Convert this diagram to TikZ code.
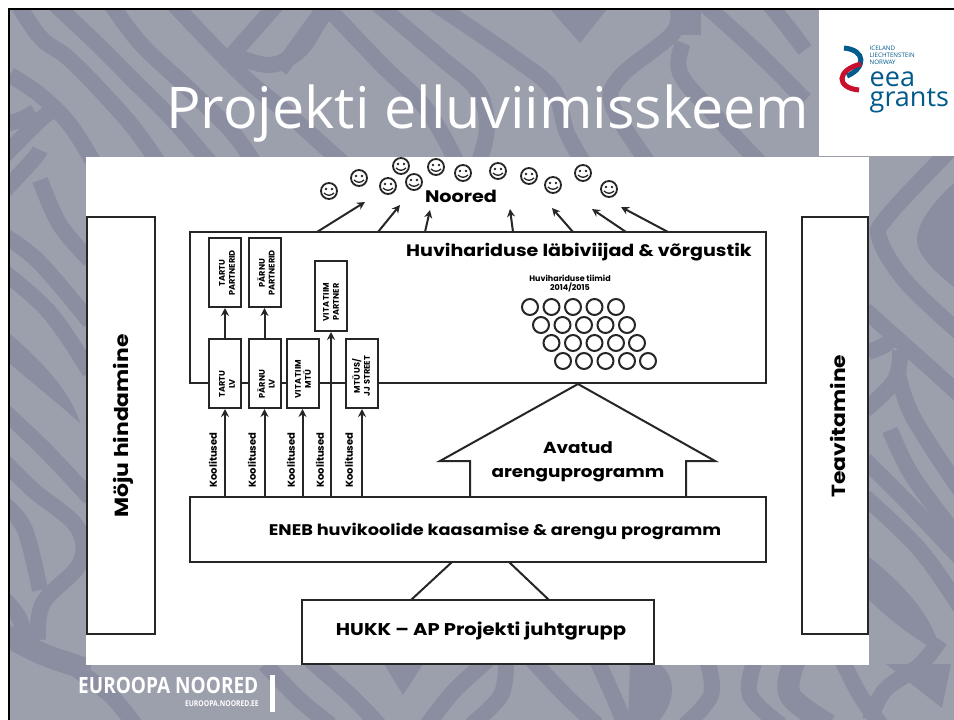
\documentclass[tikz,border=0pt]{standalone}
\usepackage{fontspec}
\setmainfont{Poppins}
\newfontfamily\widefont[FakeStretch=1.15]{Poppins}
\newfontfamily\titlefont{Open Sans}
\newfontfamily\logofont{Open Sans}
\newfontfamily\footfont[FakeStretch=0.85]{Open Sans}
\usetikzlibrary{arrows.meta}
\definecolor{bglight}{HTML}{9C9FAC}
\definecolor{bgdark}{HTML}{8A8EA0}
\definecolor{eeablue}{HTML}{005A8C}
\definecolor{eeared}{HTML}{C8102E}
\tikzset{
 x=1pt,y=-1pt,
 ln/.style={draw=black!85,line width=2pt},
 bx/.style={ln,fill=white},
 arr/.style={ln,-{Stealth[length=8pt,width=8pt]}},
 band/.style={draw=bgdark,line width=16pt},
 bandw/.style={draw=bgdark,line width=22pt},
 dk/.style={fill=bgdark},
 smallv/.style={font=\fontsize{8.2}{9.8}\selectfont\bfseries,align=center,rotate=90,inner sep=0pt},
 koolit/.style={font=\fontsize{10}{12}\selectfont\bfseries,rotate=90,inner sep=0pt},
 circ/.style={circle,ln,minimum size=16pt,inner sep=0pt},
}
\newcommand{\smiley}[3]{%
 \node[circle,draw=black!85,line width=1.8pt,fill=white,minimum size=16pt,inner sep=0pt] (#1) at (#2,#3) {};
 \fill[black!85] (#2-3,#3-2) circle (1.3pt) (#2+3,#3-2) circle (1.3pt);
 \draw[black!85,line width=1.3pt] (#2-5,#3+2) .. controls (#2-2,#3+5) and (#2+2,#3+5) .. (#2+5,#3+2);
}
\newcommand{\bnd}[2][band]{\draw[#1] plot[smooth,tension=0.6] coordinates {#2};}
\begin{document}
\begin{tikzpicture}
\useasboundingbox (0,0) rectangle (954,720);
\fill[white] (0,0) rectangle (954,720);
% slide background
\begin{scope}
\clip (9,9) rectangle (954,720);
\fill[bglight] (0,0) rectangle (954,720);
% top left
\bnd{(12,-5) (40,37) (67,57) (100,90) (133,127) (160,165)}
\bnd{(45,-5) (93,40) (133,80) (173,120) (212,165)}
\bnd{(105,-5) (140,43) (190,90) (233,133) (255,165)}
\bnd{(165,-5) (240,73) (287,113) (345,165)}
\bnd{(10,75) (40,95) (70,125) (95,165)}
\bnd{(0,125) (20,120) (35,112)}
\bnd{(5,155) (40,120) (60,105)}
\bnd{(285,-5) (232,55)}
\bnd{(232,55) (270,65) (300,50) (320,20) (335,0)}
% top middle
\bnd{(325,5) (380,63) (427,110) (458,165)}
\bnd{(375,2) (440,57) (477,90) (487,127) (478,165)}
\bnd{(432,2) (513,57) (553,90) (567,133) (585,165)}
\fill[dk] (550,9) -- (607,9) -- (580,43) -- cycle;
\bnd{(280,70) (323,10)}
\bnd{(677,5) (673,33) (620,77) (613,107) (650,165)}
\bnd{(705,5) (755,50) (805,100)}
\bnd{(683,43) (680,73) (713,113) (762,165)}
\bnd[bandw]{(690,5) (690,35)}
\bnd{(770,5) (790,30) (805,50)}
% right
\bnd{(950,150) (887,217) (880,240) (907,283) (960,333)}
\fill[dk] (954,183) .. controls (930,205) and (917,225) .. (917,240) .. controls (917,255) and (935,272) .. (954,287) -- cycle;
\bnd{(865,310) (910,350) (960,395)}
\bnd{(868,352) (885,345) (895,335)}
\bnd{(865,410) (895,380) (900,350)}
\bnd{(897,370) (913,417) (960,490)}
\bnd{(890,430) (913,477) (960,540)}
\bnd{(865,460) (910,505) (960,558)}
\bnd{(865,497) (920,550) (960,607)}
\fill[dk] (869,557) -- (869,600) .. controls (890,620) and (915,640) .. (940,652) .. controls (935,620) and (905,585) .. (869,557) -- cycle;
\bnd{(940,640) (920,665) (885,690) (870,720)}
% left
\bnd{(5,190) (33,160) (40,150)}
\bnd{(40,180) (60,225) (90,260)}
\bnd{(5,236) (40,263) (90,322)}
\bnd{(5,273) (50,313) (90,372)}
\fill[dk] (9,333) -- (9,363) .. controls (35,385) and (60,405) .. (80,423) .. controls (70,390) and (40,360) .. (9,333) -- cycle;
\bnd{(5,412) (45,450) (90,498)}
\bnd{(5,462) (33,490) (77,527) (80,563) (43,603) (38,640)}
\bnd{(5,505) (25,530) (40,590)}
\bnd{(5,600) (20,620) (25,650)}
\bnd[bandw]{(5,635) (45,655) (90,670)}
\bnd{(70,665) (110,695) (135,725)}
% bottom
\bnd{(265,664) (300,700) (331,725)}
\bnd{(310,660) (350,695) (379,725)}
\fill[dk] (384,664) -- (423,664) -- (403,695) -- cycle;
\bnd{(488,660) (455,690) (427,725)}
\bnd{(506,660) (501,695) (471,725)}
\bnd{(532,660) (565,695) (597,725)}
\bnd{(597,660) (615,700) (625,725)}
\fill[dk] (630,664) -- (660,664) .. controls (678,680) and (675,705) .. (655,725) -- (628,725) -- cycle;
\bnd{(707,660) (711,695) (685,725)}
\bnd{(755,660) (750,695) (781,725)}
\bnd[bandw]{(795,660) (790,695) (829,725)}
\bnd{(842,660) (860,695) (881,725)}
\fill[dk] (886,664) -- (951,664) -- (942,708) -- cycle;
\end{scope}
% frame
\draw[black,line width=2.2pt] (9,720) -- (9,9) -- (954,9);
% panels
\fill[white] (86,157) rectangle (869,665);
\fill[white] (819,10) rectangle (954,156);
% title
\node[anchor=base west,text=white,inner sep=0pt,font=\titlefont\fontsize{57.5}{60}\selectfont] (title) at (166,128) {Projekti elluviimisskeem};
% logo
\draw[eeablue,line width=5pt] (844,48) .. controls (866,50) and (866,68) .. (847,76);
\draw[eeared,line width=5pt] (861,64) .. controls (836,70) and (836,88) .. (859,90);
\node[anchor=west,inner sep=0pt,text=eeablue,align=left,font=\logofont\fontsize{6.2}{7}\selectfont] (lg1) at (869.5,55) {ICELAND\\LIECHTENSTEIN\\NORWAY};
\node[anchor=north west,inner sep=0pt,text=eeablue,align=left,font=\logofont\fontsize{27}{20}\selectfont] (lg2) at (869.5,72) {eea\\grants};
% footer
\node[anchor=base west,inner sep=0pt,text=white,font=\footfont\bfseries\fontsize{22.4}{24}\selectfont] (f1) at (78,693) {EUROOPA NOORED};
\node[anchor=base east,inner sep=0pt,text=white,font=\footfont\bfseries\fontsize{8}{8}\selectfont] (f2) at (259,706) {EUROOPA.NOORED.EE};
\fill[white] (270,675) rectangle (275,712);
% side boxes
\node[bx,minimum width=68pt,minimum height=417pt,inner sep=0pt] (moju) at (121,425.5) {};
\node[font=\widefont\fontsize{19}{22}\selectfont\bfseries,rotate=90,inner sep=0pt] (mojut) at (123,426) {Möju hindamine};
\node[bx,minimum width=66pt,minimum height=417pt,inner sep=0pt] (teav) at (835,425.5) {};
\node[font=\widefont\fontsize{19}{22}\selectfont\bfseries,rotate=90,inner sep=0pt] (teavt) at (838,426) {Teavitamine};
% main box
\node[bx,minimum width=576pt,minimum height=151pt,inner sep=0pt] (main) at (478,307.5) {};
\node[font=\widefont\fontsize{16.6}{20}\selectfont\bfseries,inner sep=0pt,anchor=west] (hl) at (406,252) {Huvihariduse läbiviijad \& võrgustik};
\node[font=\fontsize{8}{9}\selectfont\bfseries,align=center,inner sep=0pt] (tiim) at (570,283.5) {Huvihariduse tiimid\\2014/2015};
% circles
\foreach \xx [count=\i] in {530,551.5,573,594.5,616}{\node[circ] (ca\i) at (\xx,307) {};}
\foreach \xx [count=\i] in {541,562.5,584,605.5,627}{\node[circ] (cb\i) at (\xx,325) {};}
\foreach \xx [count=\i] in {551.5,573,594.5,616,637}{\node[circ] (cc\i) at (\xx,343) {};}
\foreach \xx [count=\i] in {563,584,605.5,627,648}{\node[circ] (cd\i) at (\xx,361) {};}
% small boxes
\node[bx,minimum width=32pt,minimum height=69pt,inner sep=0pt] (tp) at (225,272.5) {};
\node[smallv] at (227,273) {TARTU\\PARTNERID};
\node[bx,minimum width=32pt,minimum height=69pt,inner sep=0pt] (pp) at (264.5,272.5) {};
\node[smallv] at (266,273) {PÄRNU\\PARTNERID};
\node[bx,minimum width=32pt,minimum height=70pt,inner sep=0pt] (vp) at (331,296) {};
\node[smallv] at (331,302) {VITA TIIM\\PARTNER};
\node[bx,minimum width=32pt,minimum height=69pt,inner sep=0pt] (tl) at (225,373.5) {};
\node[smallv] at (227,384) {TARTU\\LV};
\node[bx,minimum width=32pt,minimum height=69pt,inner sep=0pt] (pl) at (264.5,373.5) {};
\node[smallv] at (266,384) {PÄRNU\\LV};
\node[bx,minimum width=32pt,minimum height=69pt,inner sep=0pt] (vm) at (302.5,373.5) {};
\node[smallv] at (303,379) {VITA TIIM\\MTÜ};
\node[bx,minimum width=32pt,minimum height=69pt,inner sep=0pt] (mj) at (362,373.5) {};
\node[smallv] at (361,376) {MTÜ US/\\JJ STREET};
% bottom boxes
\node[bx,minimum width=576pt,minimum height=65pt,inner sep=0pt] (eneb) at (478,529.5) {};
\node[font=\widefont\fontsize{15.4}{19}\selectfont\bfseries,inner sep=0pt] (enebt) at (495,531) {ENEB huvikoolide kaasamise \& arengu programm};
\node[bx,minimum width=352pt,minimum height=64pt,inner sep=0pt] (hukk) at (478,632) {};
\node[font=\widefont\fontsize{17}{20}\selectfont\bfseries,inner sep=0pt] (hukkt) at (481,631) {HUKK – AP Projekti juhtgrupp};
% connectors
\draw[arr] (tl.north) -- (tp.south);
\draw[arr] (pl.north) -- (pp.south);
\draw[arr] (tl.south |- eneb.north) -- (tl.south);
\draw[arr] (pl.south |- eneb.north) -- (pl.south);
\draw[arr] (vm.south |- eneb.north) -- (vm.south);
\draw[arr] (vp.south |- eneb.north) -- (vp.south);
\draw[arr] (mj.south |- eneb.north) -- (mj.south);
\node[koolit] at (213,460) {Koolitused};
\node[koolit] at (252,460) {Koolitused};
\node[koolit] at (291,460) {Koolitused};
\node[koolit] at (320,460) {Koolitused};
\node[koolit] at (349,460) {Koolitused};
% house arrow
\coordinate (h1) at (470,497);
\coordinate (h2) at (470,461);
\coordinate (h3) at (440,461);
\coordinate (h4) at (578,384);
\coordinate (h5) at (715,461);
\coordinate (h6) at (686,461);
\coordinate (h7) at (686,497);
\draw[ln,line join=miter] (h1) -- (h2) -- (h3) -- (h4) -- (h5) -- (h6) -- (h7);
\node[font=\widefont\fontsize{16}{24}\selectfont\bfseries,inner sep=0pt,align=center] (av) at (578,462) {Avatud\\arenguprogramm};
% hukk to eneb
\coordinate (e1) at (452,562);
\coordinate (e2) at (509,562);
\coordinate (k1) at (411,600);
\coordinate (k2) at (549,600);
\draw[ln] (k1) -- (e1);
\draw[ln] (k2) -- (e2);
% smileys
\smiley{s1}{329}{191}
\smiley{s2}{359}{178}
\smiley{s3}{388}{186}
\smiley{s4}{401}{166}
\smiley{s5}{414}{182}
\smiley{s6}{436}{167}
\smiley{s7}{463}{173}
\smiley{s8}{498}{171}
\smiley{s9}{529}{176}
\smiley{s10}{553}{185}
\smiley{s11}{583}{173}
\smiley{s12}{609}{189}
\node[font=\widefont\fontsize{16.7}{20}\selectfont\bfseries,inner sep=0pt] (noored) at (461,196) {Noored};
% arrows to youth
\coordinate (a1) at (365,202);
\coordinate (a2) at (400,205);
\coordinate (a3) at (430,210);
\coordinate (a4) at (510,209);
\coordinate (a5) at (552,208);
\coordinate (a6) at (592,209);
\coordinate (a7) at (621,207);
\coordinate (b1) at (317,232);
\coordinate (b2) at (378,232);
\coordinate (b3) at (425,232);
\coordinate (b4) at (513,232);
\coordinate (b5) at (573,232);
\coordinate (b6) at (626,232);
\coordinate (b7) at (668,232);
\foreach \i in {1,...,7}{\draw[arr] (b\i) -- (a\i);}
\end{tikzpicture}
\end{document}
